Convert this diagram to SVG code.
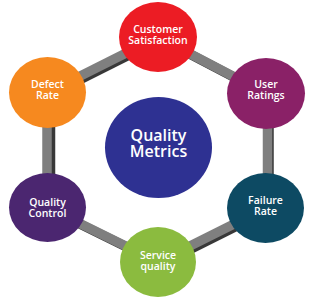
<svg xmlns="http://www.w3.org/2000/svg" width="317" height="304" viewBox="0 0 317 304">
<style>
.bar{stroke:#7f7f7f;stroke-width:9.5;fill:none}
.sh{stroke:#383838;stroke-width:9.5;fill:none}
.lbl{font-family:"Open Sans","Noto Sans","Liberation Sans",sans-serif;font-size:10.5px;font-weight:600;fill:#fff;text-anchor:middle}
.big{font-family:"Open Sans","Noto Sans","Liberation Sans",sans-serif;font-size:16px;font-weight:600;fill:#fff;text-anchor:middle}
</style>
<rect width="317" height="304" fill="#fff"/>
<g id="connectors">
<g transform="translate(3,2)">
<line class="sh" x1="47.5" y1="92.5" x2="158" y2="37"/>
<line class="sh" x1="158" y1="37" x2="266" y2="93.5"/>
<line class="sh" x1="266" y1="93.5" x2="266" y2="208"/>
<line class="sh" x1="266" y1="208" x2="158" y2="262"/>
<line class="sh" x1="158" y1="262" x2="47.5" y2="207.5"/>
<line class="sh" x1="47.5" y1="207.5" x2="47.5" y2="92.5"/>
</g>
<line class="bar" x1="47.5" y1="92.5" x2="158" y2="37"/>
<line class="bar" x1="158" y1="37" x2="266" y2="93.5"/>
<line class="bar" x1="267.5" y1="93.5" x2="267.5" y2="208"/>
<line class="bar" x1="266" y1="208" x2="158" y2="262"/>
<line class="bar" x1="158" y1="262" x2="47.5" y2="207.5"/>
<line class="bar" x1="47" y1="207.5" x2="47" y2="92.5"/>
</g>
<g id="customer-satisfaction">
<ellipse cx="158" cy="37" rx="39" ry="35" fill="#ec1c24"/>
<text class="lbl" x="158" y="33">Customer<tspan x="158" dy="11">Satisfaction</tspan></text>
</g>
<g id="user-ratings">
<ellipse cx="266" cy="93.5" rx="39" ry="35.5" fill="#8a2167"/>
<text class="lbl" x="266" y="88">User<tspan x="266" dy="11">Ratings</tspan></text>
</g>
<g id="failure-rate">
<ellipse cx="265.5" cy="208" rx="38.5" ry="35" fill="#0d4a63"/>
<text class="lbl" x="265.5" y="204">Failure<tspan x="265.5" dy="11">Rate</tspan></text>
</g>
<g id="service-quality">
<ellipse cx="158" cy="262" rx="38" ry="35" fill="#8bbb3f"/>
<text class="lbl" x="158" y="259">Service<tspan x="158" dy="11">quality</tspan></text>
</g>
<g id="quality-control">
<ellipse cx="47.5" cy="207.5" rx="38.5" ry="34.5" fill="#4b2670"/>
<text class="lbl" x="47.5" y="206">Quality<tspan x="47.5" dy="11">Control</tspan></text>
</g>
<g id="defect-rate">
<ellipse cx="47.5" cy="92.5" rx="38.5" ry="35.5" fill="#f6891f"/>
<text class="lbl" x="47.5" y="88">Defect<tspan x="47.5" dy="11">Rate</tspan></text>
</g>
<g id="quality-metrics">
<ellipse cx="158.5" cy="147.5" rx="53.5" ry="50.5" fill="#2e3192"/>
<text class="big" x="158.5" y="141">Quality<tspan x="158.5" dy="16">Metrics</tspan></text>
</g>
</svg>
